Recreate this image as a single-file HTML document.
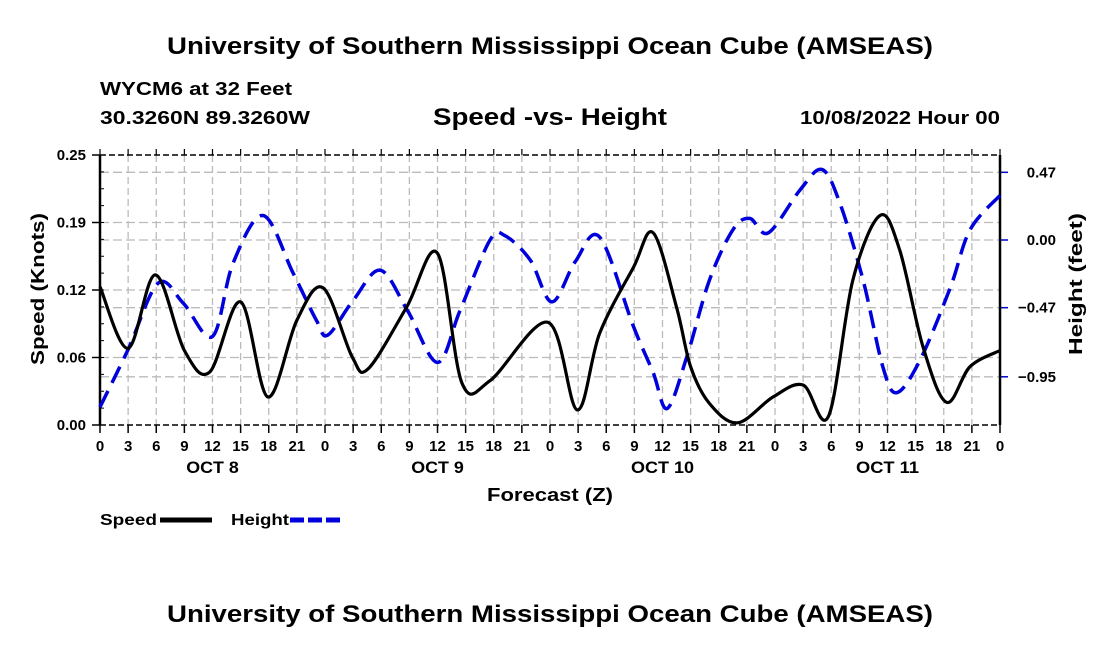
<!DOCTYPE html>
<html><head><meta charset="utf-8"><style>
body{margin:0;background:#fff;}
svg text{font-family:"Liberation Sans",Arial,sans-serif;font-weight:bold;fill:#000;}
</style></head><body>
<svg id="chart" width="1100" height="650" viewBox="0 0 1100 650" xmlns="http://www.w3.org/2000/svg">
<text x="550" y="54" font-size="24" text-anchor="middle" textLength="766" lengthAdjust="spacingAndGlyphs">University of Southern Mississippi Ocean Cube (AMSEAS)</text>
<text x="100" y="95" font-size="18" textLength="192" lengthAdjust="spacingAndGlyphs">WYCM6 at 32 Feet</text>
<text x="100" y="124" font-size="18" textLength="210" lengthAdjust="spacingAndGlyphs">30.3260N  89.3260W</text>
<text x="550" y="125" font-size="24" text-anchor="middle" textLength="234" lengthAdjust="spacingAndGlyphs">Speed -vs- Height</text>
<text x="1000" y="124" font-size="18" text-anchor="end" textLength="200" lengthAdjust="spacingAndGlyphs">10/08/2022 Hour 00</text>
<g id="grid"></g>
<g id="axes"></g>
<g id="series"></g>
<text transform="translate(44,289) rotate(-90)" font-size="18" text-anchor="middle" textLength="152" lengthAdjust="spacingAndGlyphs">Speed (Knots)</text>
<text transform="translate(1082,284) rotate(-90)" font-size="18" text-anchor="middle" textLength="142" lengthAdjust="spacingAndGlyphs">Height (feet)</text>
<text x="550" y="501" font-size="18" text-anchor="middle" textLength="126" lengthAdjust="spacingAndGlyphs">Forecast (Z)</text>
<g>
<text x="100" y="525" font-size="16" textLength="57" lengthAdjust="spacingAndGlyphs">Speed</text>
<line x1="160" y1="520" x2="212" y2="520" stroke="#000" stroke-width="5"/>
<text x="231" y="525" font-size="16" textLength="58" lengthAdjust="spacingAndGlyphs">Height</text>
<line x1="290" y1="520" x2="342" y2="520" stroke="#0000dd" stroke-width="5" stroke-dasharray="14,4"/>
</g>
<text x="550" y="622" font-size="24" text-anchor="middle" textLength="766" lengthAdjust="spacingAndGlyphs">University of Southern Mississippi Ocean Cube (AMSEAS)</text>
</svg>
<script>
const speedHours=[0,3,5.9,9,11.7,15,17.9,21,23.8,26.9,28.6,32.7,36,38.6,41.6,47.8,50.9,53.3,56.9,59,61.5,63,65,68,71.8,75,77.7,80.3,83.2,85.3,87.8,90.3,92.8,96];
const speedValues=[0.128,0.071,0.139,0.069,0.049,0.114,0.026,0.097,0.127,0.063,0.052,0.109,0.159,0.039,0.041,0.095,0.014,0.085,0.146,0.178,0.109,0.054,0.020,0.002,0.026,0.037,0.008,0.134,0.194,0.162,0.072,0.021,0.054,0.069];
const heightHours=[0,3,6.2,8.9,12,14.2,17.4,20.6,23.1,24.3,27,29.9,32.8,36,38.4,41.6,43.2,45.9,48.2,50.7,53.3,56.9,59,60.5,62.6,65,67.5,69.3,71.3,74.7,77,78.9,81.4,83.5,85,87.5,90.7,92.8,96];
const heightValues=[-1.16,-0.76,-0.30,-0.44,-0.67,-0.16,0.17,-0.23,-0.56,-0.66,-0.42,-0.21,-0.49,-0.85,-0.49,0.00,0.03,-0.14,-0.43,-0.15,0.02,-0.60,-0.92,-1.17,-0.81,-0.28,0.07,0.15,0.05,0.35,0.49,0.26,-0.28,-0.88,-1.06,-0.83,-0.33,0.07,0.31];
const xTickLabels=["0","3","6","9","12","15","18","21"];
const dayLabels=["OCT 8","OCT 9","OCT 10","OCT 11"];
const speedTicks=[0,0.0625,0.125,0.1875,0.25];
const speedTickLabels=["0.00","0.06","0.12","0.19","0.25"];
const heightTicks=[0.47,0,-0.47,-0.95];
const heightTickLabels=["0.47","0.00","\u22120.47","\u22120.95"];

const L=100,R=1000,T=155,B=425;
const NS="http://www.w3.org/2000/svg";
function xS(h){return L+h*(R-L)/96;}
function yS(v){return B-v*(B-T)/0.25;}
function yH(v){return 240-v*144;}
function mk(tag,attrs,parent){const e=document.createElementNS(NS,tag);for(const k in attrs)e.setAttribute(k,attrs[k]);parent.appendChild(e);return e;}
const grid=document.getElementById('grid'),axes=document.getElementById('axes'),series=document.getElementById('series');
for(let i=0;i<=32;i++){
  const x=xS(i*3);
  if(i>0&&i<32){const g=mk('line',{x1:x,y1:T,x2:x,y2:B,stroke:'#bbb','stroke-width':1.3,'stroke-dasharray':'7,4'},grid);
  
  }
  mk('line',{x1:x,y1:B,x2:x,y2:B+8,stroke:'#000','stroke-width':1.5},axes);
  mk('line',{x1:x,y1:T,x2:x,y2:T-6,stroke:'#000','stroke-width':1.2},axes);
  const t=mk('text',{x:x,y:B+26,'font-size':15,'text-anchor':'middle'},axes);
  t.textContent=i===32?"0":xTickLabels[i%8];
  
  
}
dayLabels.forEach((d,i)=>{const t=mk('text',{x:xS(i*24+12),y:473,'font-size':17,'text-anchor':'middle','textLength':d.length*10.5,'lengthAdjust':'spacingAndGlyphs'},axes);t.textContent=d;

});
speedTicks.forEach((v,i)=>{const y=yS(v);
 if(i>0&&i<speedTicks.length-1){const g=mk('line',{x1:L,y1:y,x2:R,y2:y,stroke:'#bbb','stroke-width':1.3,'stroke-dasharray':'9,4'},grid);
 
 }
 mk('line',{x1:L-8,y1:y,x2:L,y2:y,stroke:'#000','stroke-width':1.5},axes);
 const t=mk('text',{x:L-14,y:y+5,'font-size':15,'text-anchor':'end'},axes);t.textContent=speedTickLabels[i];
 
 });
for(let v=0;v<=0.25;v+=0.015625){mk('line',{x1:L,y1:yS(v),x2:L+4,y2:yS(v),stroke:'#000','stroke-width':1},axes);}
heightTicks.forEach((v,i)=>{const y=yH(v);
 const g=mk('line',{x1:L,y1:y,x2:R,y2:y,stroke:'#bbb','stroke-width':1.3,'stroke-dasharray':'9,4'},grid);
 
 
 mk('line',{x1:R,y1:y,x2:R+8,y2:y,stroke:'#0000cc','stroke-width':1.5},axes);
 const t=mk('text',{x:1056,y:y+5,'font-size':15,'text-anchor':'end'},axes);t.textContent=heightTickLabels[i];
 
 });
mk('line',{x1:L,y1:T,x2:L,y2:B,stroke:'#000','stroke-width':2.5},axes);
mk('line',{x1:R,y1:T,x2:R,y2:B,stroke:'#000','stroke-width':2.5},axes);
mk('line',{x1:L,y1:B,x2:R,y2:B,stroke:'#000','stroke-width':1.5,'stroke-dasharray':'6,3'},axes);
mk('line',{x1:L,y1:T,x2:R,y2:T,stroke:'#000','stroke-width':1.5,'stroke-dasharray':'6,3'},axes);
function smooth(pts){let d=`M${pts[0][0]},${pts[0][1]}`;
 for(let i=0;i<pts.length-1;i++){const p0=pts[Math.max(0,i-1)],p1=pts[i],p2=pts[i+1],p3=pts[Math.min(pts.length-1,i+2)];
 const c1=[p1[0]+(p2[0]-p0[0])/6,p1[1]+(p2[1]-p0[1])/6],c2=[p2[0]-(p3[0]-p1[0])/6,p2[1]-(p3[1]-p1[1])/6];
 d+=` C${c1[0]},${c1[1]} ${c2[0]},${c2[1]} ${p2[0]},${p2[1]}`;}return d;}
const hp=mk('path',{d:smooth(heightHours.map((h,i)=>[xS(h),yH(heightValues[i])])),fill:'none',stroke:'#0000dd','stroke-width':3.5,'stroke-dasharray':'18,9'},series);


const sp=mk('path',{d:smooth(speedHours.map((h,i)=>[xS(h),yS(speedValues[i])])),fill:'none',stroke:'#000','stroke-width':3.2},series);


</script>
</body></html>
